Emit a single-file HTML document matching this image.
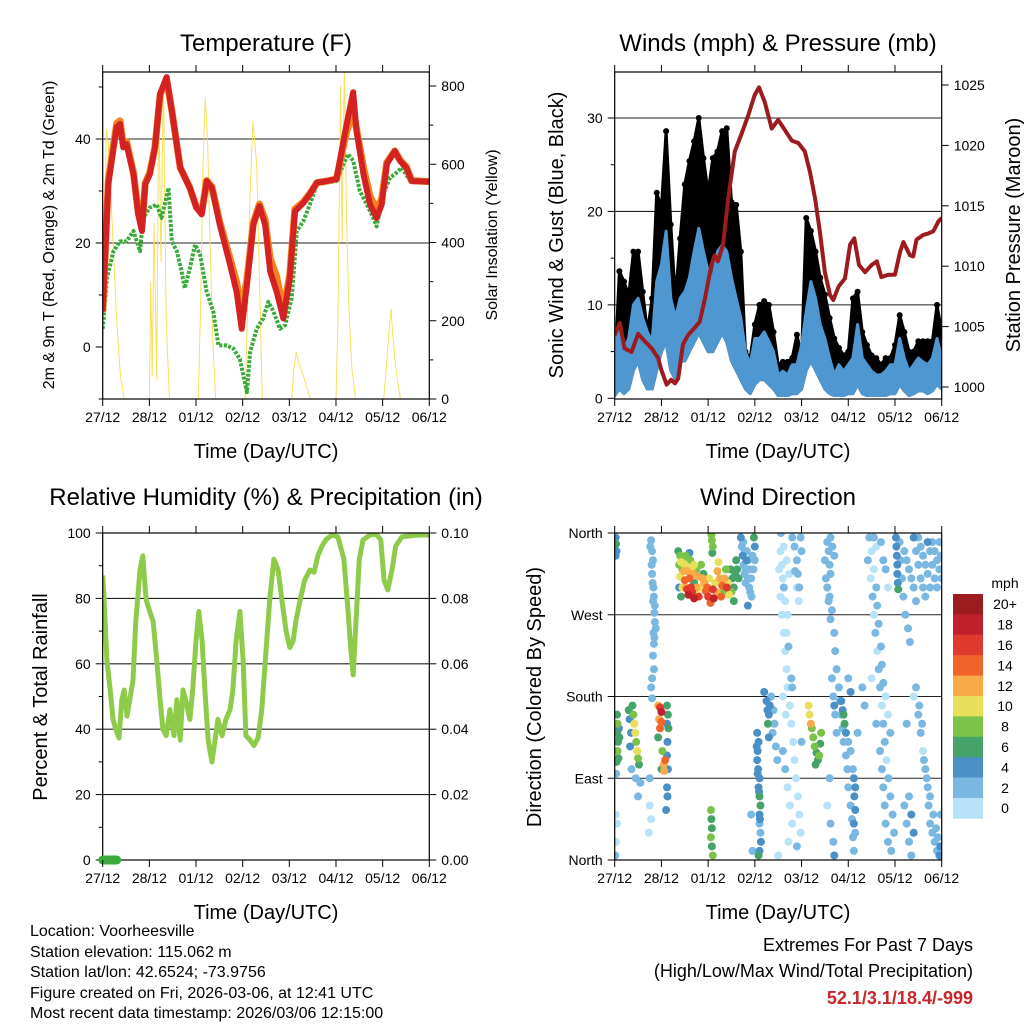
<!DOCTYPE html>
<html><head><meta charset="utf-8">
<style>
html,body{margin:0;padding:0;background:#fff;}
svg{display:block;font-family:"Liberation Sans",Arial,sans-serif;}
</style></head>
<body>
<svg id="chart" width="1024" height="1024" viewBox="0 0 1024 1024" xmlns="http://www.w3.org/2000/svg">
<rect x="0" y="0" width="1024" height="1024" fill="#fff"/>
<text x="266" y="51" font-size="24" text-anchor="middle">Temperature (F)</text>
<text x="778" y="51" font-size="24" text-anchor="middle">Winds (mph) &amp; Pressure (mb)</text>
<text x="266" y="505" font-size="24" text-anchor="middle">Relative Humidity (%) &amp; Precipitation (in)</text>
<text x="778" y="505" font-size="24" text-anchor="middle">Wind Direction</text>
<text x="266" y="458" font-size="20" text-anchor="middle">Time (Day/UTC)</text>
<text x="778" y="458" font-size="20" text-anchor="middle">Time (Day/UTC)</text>
<text x="266" y="919" font-size="20" text-anchor="middle">Time (Day/UTC)</text>
<text x="778" y="919" font-size="20" text-anchor="middle">Time (Day/UTC)</text>
<text transform="translate(54,235) rotate(-90)" font-size="16" text-anchor="middle">2m &amp; 9m T (Red, Orange) &amp; 2m Td (Green)</text>
<text transform="translate(497,235) rotate(-90)" font-size="16" text-anchor="middle">Solar Insolation (Yellow)</text>
<text transform="translate(563,235) rotate(-90)" font-size="20" text-anchor="middle">Sonic Wind &amp; Gust (Blue, Black)</text>
<text transform="translate(1020,235) rotate(-90)" font-size="20" text-anchor="middle">Station Pressure (Maroon)</text>
<text transform="translate(47,697) rotate(-90)" font-size="20" text-anchor="middle">Percent &amp; Total Rainfall</text>
<text transform="translate(541,697) rotate(-90)" font-size="20" text-anchor="middle">Direction (Colored By Speed)</text>
<g font-size="16">
<text x="30" y="936">Location: Voorheesville</text>
<text x="30" y="957">Station elevation: 115.062 m</text>
<text x="30" y="977">Station lat/lon: 42.6524; -73.9756</text>
<text x="30" y="998">Figure created on Fri, 2026-03-06, at 12:41 UTC</text>
<text x="30" y="1018">Most recent data timestamp: 2026/03/06 12:15:00</text>
</g>
<text x="973" y="951" font-size="18" text-anchor="end">Extremes For Past 7 Days</text>
<text x="973" y="977" font-size="18" text-anchor="end">(High/Low/Max Wind/Total Precipitation)</text>
<text x="973" y="1004" font-size="18" font-weight="bold" fill="#c8262a" text-anchor="end">52.1/3.1/18.4/-999</text>
</svg>
<script>
// ---------- data ----------
const dayLabels = ["27/12","28/12","01/12","02/12","03/12","04/12","05/12","06/12"];
const tempDays = [0,0.12,0.3,0.37,0.44,0.51,0.66,0.76,0.84,0.91,1.01,1.12,1.23,1.37,1.48,1.66,1.87,2.01,2.12,2.23,2.34,2.51,2.73,2.87,2.98,3.09,3.23,3.36,3.48,3.59,3.73,3.87,4.01,4.12,4.3,4.44,4.59,4.8,5.01,5.12,5.23,5.37,5.44,5.59,5.73,5.87,5.98,6.09,6.26,6.37,6.51,6.62,7];
const tempRed = [6.8,31.3,42.3,42.9,38.4,39,33.2,25.5,22.3,31.3,33.2,38.4,48.7,51.9,45.5,34.5,30.6,26.8,25.5,31.9,30.6,23.5,15.8,10.6,3.5,11.9,23.5,27.1,23.5,14.5,10.6,5.5,13.2,26.1,27.7,29.4,31.6,31.9,32.3,37.7,42.9,49,41.6,33.2,27.4,24.8,27.4,35.2,37.7,35.8,34.5,31.9,31.8];
const tempOrange = [6.8,32,43,43.5,39,39.5,33.5,26,23,31.5,33.5,38.5,48.5,51.5,45.5,34.5,30.6,26.8,25.8,32,30.8,24,17,12.5,7,13,24,27.5,24.5,17,13.5,7,14,26.5,27.9,29.5,31.6,31.9,32.3,37,41.5,45,42,34.5,29,26.5,28.5,35.5,37.7,36,34.6,32,31.8];
const dewDays = [0,0.09,0.23,0.37,0.51,0.66,0.8,0.87,1.01,1.16,1.26,1.41,1.48,1.59,1.69,1.76,1.87,1.98,2.09,2.23,2.37,2.48,2.66,2.8,2.94,3.09,3.16,3.3,3.44,3.55,3.66,3.8,3.91,4.05,4.16,4.3,4.44,4.59,4.8,5.01,5.16,5.26,5.37,5.51,5.66,5.8,5.87,6.01,6.16,6.26,6.41,6.59,7];
const dewPoint = [3.5,13.2,18.4,20.3,20.3,22.3,18.4,24.8,26.8,27.4,24.8,30.6,20.3,18.4,14.5,11.3,15.2,19.7,17.7,10.6,6.8,0.3,0.3,-0.3,-2.3,-8.7,-1,3.5,5.5,8.7,6.8,3.5,4.2,9.4,22.3,24.2,27.4,31.3,31.6,31.9,35.2,37.1,35.8,30,27.4,24.8,23.2,29.4,32.6,33.2,34.5,31.9,31.6];
const solarDays = [0,0.02,0.05,0.08,0.12,0.16,0.22,0.3,0.38,0.46,1.0,1.03,1.06,1.1,1.16,1.2,1.25,1.3,1.36,1.43,2.05,2.1,2.15,2.2,2.25,2.3,2.36,2.42,3.05,3.1,3.15,3.22,3.3,3.36,3.42,4.05,4.1,4.15,4.2,4.3,4.45,5.0,5.04,5.08,5.1,5.13,5.16,5.18,5.22,5.27,5.34,5.42,6.02,6.08,6.12,6.18,6.22,6.28,6.38,7];
const solarVals = [0,200,500,690,650,560,400,200,60,0,0,300,60,450,50,780,350,820,200,0,0,250,600,770,650,400,150,0,0,200,500,710,600,300,0,0,80,120,90,60,0,0,200,600,800,400,700,840,500,250,80,0,0,80,150,230,160,80,0,0];

const windDays = Array.from({length:71},(_,i)=>i/10);
const windHi = [7.1,7.9,5.4,6.4,10,10.7,8.6,7.1,6.1,12.5,14.3,17.9,10.7,8.6,10.7,11.4,12.9,15.7,18.2,15.7,13.6,12.9,15.7,16.4,15.7,12.9,10.7,8.6,5,3.6,6.4,6.4,7.1,6.1,5,2.5,2.9,2.5,3.6,3.6,5.7,9.3,12.5,10.7,7.9,6.4,4.3,2.5,3.6,2.9,3.6,4.3,7.9,4.3,3.6,2.9,2.5,2.5,2.9,3.6,3.6,6.4,4.3,2.9,3.6,4.3,3.9,3.6,4.3,6.4,4.3];
const windLo = [0.3,1,0.5,1,3,4,2,1,1,3,5,6,3,2,4,4,5,6,7,6,5,5,6,7,6,4,3,2,1,0.5,1.5,2,2,1.5,1,0.3,0.3,0.3,0.5,0.5,1,3,4,3,2,1,0.5,0.3,0.3,0.3,0.5,0.5,1.5,0.5,0.3,0.3,0.3,0.3,0.3,0.5,0.5,1.5,0.8,0.3,0.5,0.8,0.8,0.5,0.8,1.5,1];
const windGust = [3,13.6,12.5,11,15.7,15.7,11.4,7.1,10.7,22,20.4,28.6,18.6,10.7,17.1,22.9,25.4,27.5,30,25.7,22,25.7,26.4,28.6,28.9,21,20.7,15.7,5,4.3,7.9,10,10.4,10,7.1,3.6,3.9,3.9,4.3,6.8,4.6,19.3,17.9,15.7,12.9,11.1,8.6,6.4,5.4,4.6,5,10.7,11.4,7.1,5.7,4.6,4.3,3.6,4.3,4.3,5.7,8.9,7.1,5,5,6.1,6.1,6.1,6.1,10,7.1];
const presDays = [0,0.11,0.21,0.36,0.5,0.64,0.79,0.93,1,1.11,1.21,1.29,1.36,1.46,1.57,1.71,1.82,1.93,2.07,2.14,2.21,2.32,2.43,2.57,2.71,2.86,3,3.09,3.21,3.36,3.5,3.64,3.79,3.93,4.07,4.18,4.29,4.39,4.5,4.61,4.68,4.79,4.93,5.04,5.13,5.23,5.36,5.5,5.61,5.71,5.86,6,6.11,6.18,6.32,6.39,6.46,6.61,6.71,6.82,6.93,7];
const presVals = [1004.3,1005.3,1003.2,1002.9,1004.4,1003.8,1003.2,1002.4,1001.4,1000.2,1000.6,1000.3,1000.7,1003.5,1004.3,1004.9,1005.4,1007.3,1010.1,1010.9,1010.4,1011.8,1015.6,1019.5,1020.9,1022.5,1024.2,1024.8,1023.6,1021.4,1022.1,1021.3,1020.4,1020.2,1019.5,1017.8,1015.6,1012.9,1009.5,1007.6,1007.2,1008.3,1009,1011.8,1012.3,1010.1,1009.5,1010.1,1010.4,1009.1,1009.3,1009.3,1011.2,1012,1010.9,1010.8,1012.2,1012.6,1012.7,1012.9,1013.7,1014];

const rhDays = [0,0.03,0.09,0.16,0.22,0.28,0.35,0.41,0.46,0.52,0.58,0.65,0.71,0.8,0.86,0.93,1.01,1.08,1.16,1.23,1.29,1.36,1.44,1.53,1.59,1.66,1.72,1.78,1.87,1.93,2.0,2.06,2.13,2.19,2.26,2.34,2.41,2.47,2.56,2.64,2.73,2.79,2.86,2.94,3.01,3.07,3.16,3.24,3.33,3.41,3.5,3.58,3.67,3.76,3.84,3.93,4.01,4.08,4.14,4.23,4.33,4.44,4.53,4.61,4.7,4.78,4.91,5.04,5.17,5.26,5.32,5.37,5.43,5.5,5.58,5.73,5.86,5.96,6.03,6.11,6.2,6.28,6.41,6.58,6.8,7];
const rhVals = [87,79.5,61,52,43,40,37.3,49,52,44,49,55,73,88.7,93,79.5,76,73,61,49,40,38,46,38,49,36.7,52,49,43,52,67,76,67,52,36.7,30,36.7,43,38,43,46,52,67,76,61,38,36.7,35,37.3,46,64,79.5,92,88.7,79.5,70,65,67,73,79.5,85.6,88.7,88,93,96,97.9,99.4,98.8,92,76,64,56.6,73,92,97.9,99.4,99.7,97.9,85.6,82.6,88.7,96,98.8,99.1,99.4,99.4];
const precipDays = [0,0.3];
const precipVals = [0,0];

const speedBins = ["0","2","4","6","8","10","12","14","16","18","20+"];
const speedColors = ["#b8e2f8","#7ab8e2","#4a8fc6","#45a36a","#7bc24a","#e8e05a","#f8aa48","#f0642a","#e03a2e","#c0202a","#9b1b1e"];
const dirLabels = ["North","East","South","West","North"];
const dirObs = [
[0.02,355,5],[0.03,348,6],[0.04,340,5],[0.02,335,4],[0.05,160,7],[0.06,150,8],[0.05,140,6],[0.07,130,7],[0.06,120,8],[0.08,112,6],[0.04,108,7],[0.09,145,5],[0.1,135,6],[0.03,95,3],[0.02,50,1],[0.05,40,1],[0.03,20,1],[0.01,5,3],
[0.3,165,6],[0.32,155,5],[0.35,140,4],[0.33,125,4],[0.38,170,7],[0.4,160,9],[0.42,150,10],[0.44,140,10],[0.46,130,9],[0.48,120,10],[0.5,112,8],[0.52,105,7],[0.36,100,3],[0.45,90,2],[0.55,85,2],[0.5,70,2],
[0.78,352,2],[0.8,340,2],[0.82,330,2],[0.8,315,3],[0.83,300,2],[0.82,285,2],[0.85,272,2],[0.86,262,2],[0.83,250,2],[0.84,238,2],[0.82,225,2],[0.84,210,3],[0.78,190,2],[0.8,178,2],[0.75,90,2],[0.75,60,1],[0.78,45,1],[0.73,30,1],
[0.76,345,2],[0.79,325,2],[0.81,305,3],[0.84,290,2],[0.86,280,2],[0.88,255,2],[0.85,245,2],[0.8,200,2],
[0.93,170,12],[0.97,168,16],[1.0,163,18],[0.95,155,13],[0.97,145,15],[1.0,152,14],[0.93,135,7],[1.02,120,8],[1.05,105,12],[1.08,110,14],[1.06,98,12],[1.12,170,6],[1.14,160,6],[1.15,145,6],[1.13,130,5],[1.12,115,5],[1.14,100,4],[1.12,80,4],[1.13,70,4],[1.1,55,4],[1.0,100,6],[1.12,150,5],
[1.36,340,7],[1.4,335,8],[1.42,328,10],[1.45,320,9],[1.4,312,11],[1.48,318,12],[1.5,308,14],[1.52,300,12],[1.55,298,17],[1.58,292,18],[1.45,300,10],[1.62,330,8],[1.65,322,10],[1.68,315,12],[1.7,305,6],[1.72,295,10],[1.75,320,8],[1.78,312,13],[1.82,300,11],[1.85,325,9],[1.9,315,6],[1.92,305,12],[1.95,296,15],[2.0,290,16],[2.05,283,15],[2.1,298,16],[2.12,288,18],[2.15,305,10],[2.2,318,13],[2.25,310,12],[2.3,302,14],[2.33,295,8],[2.38,320,9],[2.42,305,10],[2.45,292,11],[2.48,320,7],[2.52,310,7],[2.55,300,6],[2.58,315,6],[1.6,338,5],[1.38,300,5],[1.42,290,6],
[1.38,325,8],[1.44,330,9],[1.5,325,11],[1.55,318,12],[1.6,310,14],[1.63,300,16],[1.66,295,17],[1.7,288,18],[1.75,300,12],[1.8,290,16],[1.88,310,13],[1.98,300,14],[2.02,310,10],[2.18,295,13],[2.28,290,15],[2.35,310,12],[2.4,300,16],[2.5,295,9],[2.55,285,7],[2.6,330,6],[2.62,320,7],[2.65,310,6],[1.52,335,9],[1.7,325,10],[2.22,328,11],
[2.07,358,8],[2.08,352,8],[2.1,345,8],[2.09,338,7],[2.06,55,8],[2.07,45,7],[2.08,35,7],[2.06,25,8],[2.08,15,7],[2.1,5,8],
[2.75,350,3],[2.78,340,3],[2.82,330,4],[2.8,320,3],[2.85,310,3],[2.88,300,2],[2.9,295,3],[2.93,290,3],[2.98,355,6],[3.0,345,4],[3.0,330,3],[2.85,280,4],[3.08,130,4],[3.06,120,4],[3.05,110,4],[3.07,100,4],[3.1,90,4],[3.08,80,4],[3.1,70,6],[3.12,60,6],[3.1,50,4],[3.1,40,3],[3.12,30,3],[3.1,10,4],[3.08,5,6],[2.95,10,2],[2.92,50,2],
[2.7,355,4],[2.72,345,3],[2.74,335,4],[2.76,325,3],[2.78,315,2],[2.8,305,2],[2.83,340,3],[2.86,330,2],[2.89,320,3],[2.92,310,2],[2.95,335,3],[2.97,320,2],
[3.04,125,4],[3.06,95,4],[3.09,75,4],[3.11,45,4],[3.13,20,4],[3.05,140,4],
[3.25,175,4],[3.27,165,4],[3.3,160,5],[3.28,150,6],[3.32,170,5],[3.35,180,2],[3.4,165,2],[3.42,150,2],[3.38,140,2],[3.45,125,2],[3.48,110,2],[3.3,135,4],[3.2,185,4],
[3.55,340,1],[3.58,325,1],[3.6,310,1],[3.62,300,2],[3.65,285,1],[3.7,270,1],[3.68,250,1],[3.72,235,2],[3.78,200,2],[3.8,190,3],[3.85,345,3],[3.9,330,2],[3.92,315,2],[3.95,300,2],[3.98,355,3],[4.0,340,2],[3.6,120,2],[3.65,100,2],[3.7,80,1],[3.75,60,1],[3.8,40,1],[3.72,20,1],[3.9,15,2],[4.0,130,3],[3.5,5,1],
[3.52,320,1],[3.55,290,1],[3.58,270,1],[3.62,250,1],[3.65,230,1],[3.68,210,1],[3.7,190,1],[3.75,170,1],[3.78,150,1],[3.82,130,1],[3.85,110,1],[3.88,90,1],[3.92,70,1],[3.95,50,1],[3.98,30,1],[3.56,360,2],[3.62,345,1],[3.68,330,1],[3.74,315,1],[3.8,355,2],[3.86,318,2],[3.9,300,1],[3.94,285,1],[3.6,180,1],[3.66,160,1],
[4.15,170,10],[4.17,160,10],[4.2,150,12],[4.22,145,8],[4.25,135,8],[4.28,125,8],[4.32,118,6],[4.35,110,6],[4.38,115,8],[4.42,140,8],[4.4,128,7],[4.3,105,7],
[4.55,350,3],[4.58,340,2],[4.6,325,2],[4.62,315,2],[4.55,300,3],[4.58,285,2],[4.62,265,2],[4.65,200,2],[4.68,180,3],[4.7,170,4],[4.72,160,3],[4.75,140,3],[4.6,90,2],[4.55,60,1],[4.62,40,2],[4.68,20,2],[4.7,5,4],
[4.5,330,2],[4.52,310,2],[4.6,290,2],[4.65,275,2],[4.7,250,2],[4.72,230,2],[4.75,210,2],[4.8,190,3],[4.82,175,3],[4.85,160,3],[4.88,145,3],[4.9,130,2],[4.95,115,2],[4.98,100,2],[5.0,80,2],[5.05,60,2],[5.08,45,2],[5.1,25,3],[5.12,10,3],[4.62,355,3],[4.66,345,3],[4.7,335,2],
[4.85,175,4],[4.88,165,5],[4.9,160,6],[4.92,150,6],[4.95,140,4],[5.0,130,3],[5.05,120,3],[5.1,100,3],[5.12,90,4],[5.15,80,4],[5.13,70,4],[5.15,55,4],[5.12,40,4],[5.15,30,3],[5.0,200,3],[5.05,185,4],[5.2,140,2],[5.3,190,2],[5.35,170,2],
[5.45,355,2],[5.5,340,1],[5.55,320,1],[5.6,300,2],[5.62,280,2],[5.65,260,2],[5.7,235,2],[5.72,215,2],[5.75,195,2],[5.8,180,1],[5.85,160,1],[5.9,140,2],[5.68,120,2],[5.72,100,3],[5.75,80,2],[5.78,60,2],[5.8,40,2],[5.85,20,3],[5.92,10,3],[5.6,150,2],[5.5,200,1],
[5.42,330,2],[5.48,310,1],[5.52,290,2],[5.55,270,1],[5.58,250,2],[5.62,230,1],[5.65,210,2],[5.68,190,2],[5.72,170,1],[5.75,150,2],[5.78,130,2],[5.82,110,1],[5.86,90,2],[5.9,70,2],[5.95,50,2],[5.98,30,2],[5.55,355,2],[5.6,345,1],[5.7,350,2],[5.75,330,2],[5.8,320,2],[5.85,300,1],
[6.02,355,4],[6.03,345,4],[6.04,335,4],[6.05,325,4],[6.05,315,4],[6.06,305,4],[6.07,298,6],
[6.2,340,2],[6.25,330,3],[6.3,320,2],[6.35,310,2],[6.4,300,3],[6.45,285,2],[6.5,355,3],[6.55,345,2],[6.6,335,2],[6.65,325,3],[6.7,315,2],[6.75,300,2],[6.8,350,2],[6.85,340,3],[6.9,330,2],[6.95,320,2],[7.0,310,2],[6.4,180,1],[6.5,160,2],[6.55,140,2],[6.6,120,1],[6.65,100,2],[6.7,80,2],[6.72,60,3],[6.75,40,2],[6.8,30,2],[6.85,20,3],[6.9,10,3],[6.95,5,4],[6.98,50,2],[6.3,70,3],[6.35,50,4],[6.4,30,4],[6.25,150,2],
[6.1,350,3],[6.12,330,3],[6.15,310,2],[6.18,290,3],[6.22,270,2],[6.28,255,2],[6.32,240,2],[6.4,355,4],[6.45,340,3],[6.5,325,2],[6.55,310,3],[6.6,300,2],[6.65,290,2],[6.7,350,4],[6.75,340,3],[6.8,325,3],[6.85,310,2],[6.9,300,2],[6.95,350,3],[6.98,335,3],[6.45,190,2],[6.52,170,2],[6.58,150,2],[6.62,110,2],[6.68,90,2],[6.75,70,2],[6.82,50,3],[6.88,35,3],[6.92,25,3],[6.97,15,4],[6.2,60,2],[6.25,40,3],[6.3,20,3],[6.35,5,3]
];

// ---------- helpers ----------
const NS = 'http://www.w3.org/2000/svg';
const svg = document.getElementById('chart');
function mk(tag, attrs, parent){
  const e = document.createElementNS(NS, tag);
  for (const k in attrs) e.setAttribute(k, attrs[k]);
  (parent || svg).appendChild(e);
  return e;
}
function lin(d0,d1,r0,r1){ return v => r0 + (v-d0)/(d1-d0)*(r1-r0); }
const P1 = {x0:102.7,x1:429.3,y0:72,y1:399};
const P2 = {x0:614.7,x1:941.7,y0:72,y1:399};
const P3 = {x0:102.7,x1:429.3,y0:533,y1:860};
const P4 = {x0:614.7,x1:941.7,y0:533,y1:860};
const x1s = lin(0,7,P1.x0,P1.x1), x2s = lin(0,7,P2.x0,P2.x1);
const x3s = lin(0,7,P3.x0,P3.x1), x4s = lin(0,7,P4.x0,P4.x1);
const yTemp = lin(0,40,347,139);
const ySolar = lin(0,800,399,86);
const yWind = lin(0,30,398.3,118);
const yPres = lin(1000,1025,387,85);
const yRH = lin(0,100,860,533);
const yPrecip = lin(0,0.1,860,533);
const yDir = lin(0,360,860,533);

function pathFrom(xs, ys, xf, yf){
  return xs.map((d,i)=>(i?'L':'M')+xf(d).toFixed(1)+','+yf(ys[i]).toFixed(1)).join('');
}
function clipFor(P,id){
  const cp = mk('clipPath',{id:id});
  
  
  const r = mk('rect',{x:P.x0,y:P.y0,width:P.x1-P.x0,height:P.y1-P.y0},cp);
  
  
}
clipFor(P1,'clip1'); clipFor(P2,'clip2'); clipFor(P3,'clip3'); clipFor(P4,'clip4');

function xAxis(P, xf, name){
  const g = mk('g',{stroke:'#000','stroke-width':1});
  
  
  dayLabels.forEach((lab,i)=>{
    const x = xf(i);
    const t1 = mk('line',{x1:x,x2:x,y1:P.y1,y2:P.y1+7},g);
    
    
    const t2 = mk('line',{x1:x,x2:x,y1:P.y0-7,y2:P.y0},g);
    
    
    const tx = mk('text',{x:x,y:P.y1+23,'font-size':14,'text-anchor':'middle',stroke:'none',fill:'#000'},g);
    tx.textContent = lab;
    
    
  });
}
function yAxis(P, yf, vals, labels, minor, side, name, grid){
  const g = mk('g',{stroke:'#000','stroke-width':1});
  
  
  const xa = side==='left' ? P.x0 : P.x1;
  const dir = side==='left' ? -1 : 1;
  vals.forEach((v,i)=>{
    const y = yf(v);
    const t = mk('line',{x1:xa,x2:xa+dir*7,y1:y,y2:y},g);
    
    
    const tx = mk('text',{x:xa+dir*12,y:y+5,'font-size':14,'text-anchor':side==='left'?'end':'start',stroke:'none',fill:'#000'},g);
    tx.textContent = labels[i];
    
    
    if (grid && v!==vals[0]) {
      const gl = mk('line',{x1:P.x0,x2:P.x1,y1:y,y2:y,stroke:'#222','stroke-width':1.1},g);
      
      
    }
  });
  minor.forEach(v=>{
    const y = yf(v);
    const t = mk('line',{x1:xa,x2:xa+dir*4,y1:y,y2:y},g);
    
    
  });
}
function frame(P,name){
  const r = mk('rect',{x:P.x0,y:P.y0,width:P.x1-P.x0,height:P.y1-P.y0,fill:'none',stroke:'#000','stroke-width':1.2});
  
  
}

// ---------- panel 1 : temperature ----------
yAxis(P1, yTemp, [0,20,40], ['0','20','40'], [-10,10,30,50], 'left', 'temperature-y-axis', true);
yAxis(P1, ySolar, [0,200,400,600,800], ['0','200','400','600','800'], [100,300,500,700], 'right', 'solar-y-axis', false);
const g1 = mk('g',{'clip-path':'url(#clip1)'});


const solar = mk('path',{d:pathFrom(solarDays,solarVals,x1s,ySolar),fill:'none',stroke:'#f7dc4a','stroke-width':1,opacity:0.9},g1);


const dew = mk('path',{d:pathFrom(dewDays,dewPoint,x1s,yTemp),fill:'none',stroke:'#3aaa3a','stroke-width':4,'stroke-dasharray':'3 1.5','stroke-linejoin':'round'},g1);


const orng = mk('path',{d:pathFrom(tempDays,tempOrange,x1s,yTemp),fill:'none',stroke:'#f5821f','stroke-width':7,'stroke-linejoin':'round'},g1);


const red = mk('path',{d:pathFrom(tempDays,tempRed,x1s,yTemp),fill:'none',stroke:'#d42222','stroke-width':6,'stroke-linejoin':'round'},g1);


frame(P1,'temperature-frame');
xAxis(P1, x1s, 'temperature');

// ---------- panel 2 : winds ----------
yAxis(P2, yWind, [0,10,20,30], ['0','10','20','30'], [5,15,25], 'left', 'wind-y-axis', true);
yAxis(P2, yPres, [1000,1005,1010,1015,1020,1025], ['1000','1005','1010','1015','1020','1025'], [], 'right', 'pressure-y-axis', false);
const g2 = mk('g',{'clip-path':'url(#clip2)'});


let gp = '';
windDays.forEach((d,i)=>{ gp += (i?'L':'M')+x2s(d).toFixed(1)+','+yWind(windGust[i]).toFixed(1); });
for (let i=windDays.length-1;i>=0;i--) gp += 'L'+x2s(windDays[i]).toFixed(1)+','+yWind(windLo[i]).toFixed(1);
const gustArea = mk('path',{d:gp+'Z',fill:'#000',stroke:'#000','stroke-width':3,'stroke-linejoin':'round'},g2);


windDays.forEach((d,i)=>{
  const c = mk('circle',{cx:x2s(d),cy:yWind(windGust[i]),r:3,fill:'#000'},g2);
  
  
});
let bp = '';
windDays.forEach((d,i)=>{ bp += (i?'L':'M')+x2s(d).toFixed(1)+','+yWind(windHi[i]).toFixed(1); });
for (let i=windDays.length-1;i>=0;i--) bp += 'L'+x2s(windDays[i]).toFixed(1)+','+yWind(windLo[i]).toFixed(1);
const blue = mk('path',{d:bp+'Z',fill:'#4f97d0',stroke:'#4f97d0','stroke-width':3,'stroke-linejoin':'round'},g2);


const pres = mk('path',{d:pathFrom(presDays,presVals,x2s,yPres),fill:'none',stroke:'#9b1b1e','stroke-width':4,'stroke-linejoin':'round'},g2);


frame(P2,'wind-frame');
xAxis(P2, x2s, 'wind');

// ---------- panel 3 : humidity ----------
yAxis(P3, yRH, [0,20,40,60,80,100], ['0','20','40','60','80','100'], [10,30,50,70,90], 'left', 'humidity-y-axis', true);
yAxis(P3, yPrecip, [0,0.02,0.04,0.06,0.08,0.1], ['0.00','0.02','0.04','0.06','0.08','0.10'], [], 'right', 'precip-y-axis', false);
const g3 = mk('g',{'clip-path':'url(#clip3)'});


const rh1 = mk('path',{d:pathFrom(rhDays,rhVals,x3s,yRH),fill:'none',stroke:'#8fcb4a','stroke-width':5,'stroke-linejoin':'round'},g3);


frame(P3,'humidity-frame');
const pr = mk('path',{d:pathFrom(precipDays,precipVals,x3s,yPrecip),fill:'none',stroke:'#3aaa3a','stroke-width':9,'stroke-linecap':'round'});


xAxis(P3, x3s, 'humidity');

// ---------- panel 4 : wind direction ----------
yAxis(P4, yDir, [0,90,180,270,360], dirLabels, [], 'left', 'direction-y-axis', true);
const g4 = mk('g',{'clip-path':'url(#clip4)'});


function binFor(s){ return Math.min(speedColors.length-1, Math.floor(s/2)); }
const ordered = dirObs.slice().sort((a,b)=>a[2]-b[2]);
ordered.forEach(o=>{
  const c = mk('circle',{cx:x4s(o[0]),cy:yDir(o[1]),r:4,fill:speedColors[binFor(o[2])]},g4);
  
  
});
frame(P4,'direction-frame');
xAxis(P4, x4s, 'direction');

// colorbar
const cb = mk('g',{});


const cbTop = 594, cbH = 20.4;
const unit = mk('text',{x:1005,y:588,'font-size':14,'text-anchor':'middle'},cb);
unit.textContent = 'mph';


speedBins.forEach((lab,i)=>{
  const k = speedBins.length-1-i;
  const y = cbTop + i*cbH;
  const r = mk('rect',{x:953,y:y,width:30,height:cbH+0.3,fill:speedColors[k]},cb);
  
  
  const t = mk('text',{x:1005,y:y+cbH/2+5,'font-size':14,'text-anchor':'middle'},cb);
  t.textContent = speedBins[k];
  
  
});
</script>
</body></html>
